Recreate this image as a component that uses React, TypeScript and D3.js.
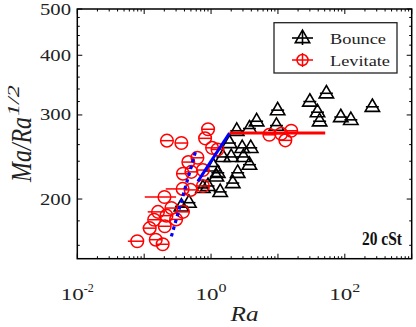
import React from 'react';
import * as d3 from 'd3';

const W = 416;
const H = 327;

// Bounce (black triangles): Ra, Ma/Ra^{1/2}, horizontal error factor
const bounceRa = [53, 30, 9.9, 39, 87, 123, 42, 258, 4.8, 9.5, 3.75, 2.42, 1.89, 2.92, 3.92, 1.5, 2.0, 3.05, 3.75, 1.09, 1.26, 2.5, 1.2, 2.11, 0.9, 1.37, 0.755, 0.467, 0.36];
const bounceVal = [333, 320, 307, 304, 297, 293, 291, 312, 291, 285, 281, 278, 262, 256, 256, 245, 245, 245, 236, 234, 227, 227, 223, 216, 213, 207, 211, 196.5, 193];
const bounceErr = [1.25, 1.25, 1.25, 1.25, 1.25, 1.25, 1.25, 1.25, 1.25, 1.25, 1.25, 1.25, 1.25, 1.25, 1.25, 1.25, 1.25, 1.25, 1.25, 1.25, 1.25, 1.25, 1.25, 1.25, 1.25, 1.25, 1.25, 1.25, 1.25];

// Levitate (red circles): Ra, Ma/Ra^{1/2}, lower / upper Ra of error bar
const levRa = [0.219, 0.36, 0.902, 0.814, 1.035, 1.25, 0.625, 0.457, 0.755, 0.38, 0.507, 0.755, 0.376, 0.495, 0.201, 0.255, 0.161, 0.38, 0.215, 0.141, 0.30, 0.203, 0.121, 0.149, 0.0788, 0.189, 7.44, 12.9, 15.8, 11.2];
const levVal = [265, 262, 280, 268, 256, 254, 244, 239, 230, 226, 228, 213, 210, 209, 202, 191.5, 188, 188, 184.6, 181, 181.3, 175.4, 173.8, 164.4, 163.2, 160.8, 272.6, 265.4, 278, 274];
const levLo = [0.178, 0.293, 0.733, 0.662, 0.841, 1.016, 0.508, 0.372, 0.614, 0.309, 0.412, 0.614, 0.21, 0.402, 0.102, 0.207, 0.113, 0.309, 0.175, 0.115, 0.244, 0.165, 0.095, 0.121, 0.057, 0.154, 6.05, 10.5, 12.8, 9.1];
const levHi = [0.269, 0.443, 1.11, 1.0, 1.27, 1.54, 0.769, 0.562, 0.929, 0.467, 0.624, 0.929, 0.463, 0.609, 0.30, 0.314, 0.198, 0.467, 0.264, 0.173, 0.369, 0.25, 0.149, 0.183, 0.097, 0.232, 9.15, 15.9, 19.4, 13.8];

// Fit lines
const dottedRa = [0.255, 0.598];
const dottedVal = [167, 254];
const solidRa = [0.635, 1.887];
const solidVal = [217.8, 275];
const plateauRa = [1.887, 50.9];
const plateauVal = [275, 275];

const xMajor = [1e-2, 1e-1, 1e0, 1e1, 1e2, 1e3];
const xLabels = [
  { v: 1e-2, exp: '-2' },
  { v: 1e0, exp: '0' },
  { v: 1e2, exp: '2' },
];
const yMajor = [200, 300, 400, 500];
const yMinor = [160, 180, 220, 240, 260, 280, 320, 340, 360, 380, 420, 440, 460, 480];

const SERIF = '"Liberation Serif", "Times New Roman", serif';

export default function App() {
  const left = 77.3, right = 411.7, top = 9, bottom = 258.7;
  const x = d3.scaleLog().domain([1e-2, 1e3]).range([left, right]);
  const y = d3.scaleLog().domain([150, 500]).range([bottom, top]);

  const xMinor: number[] = [];
  for (let e = -2; e < 3; e++) for (let m = 2; m <= 9; m++) xMinor.push(m * Math.pow(10, e));

  const line = d3.line<[number, number]>().x(d => x(d[0])).y(d => y(d[1]));
  const tri = 'M0,-7.8 L7.2,4.6 L-7.2,4.6 Z';

  return (
    <svg width={W} height={H} style={{ position: 'absolute', left: 0, top: 0, background: '#fff' }} fontFamily={SERIF}>
      <rect x={0} y={0} width={W} height={H} fill="#fff" />
      {/* ticks */}
      <g stroke="#000" strokeWidth={1}>
        {xMajor.map((v, i) => (
          <g key={'xM' + i}>
            <line x1={x(v)} x2={x(v)} y1={bottom} y2={bottom - 5} />
            <line x1={x(v)} x2={x(v)} y1={top} y2={top + 5} />
          </g>
        ))}
        {xMinor.map((v, i) => (
          <g key={'xm' + i}>
            <line x1={x(v)} x2={x(v)} y1={bottom} y2={bottom - 2.5} />
            <line x1={x(v)} x2={x(v)} y1={top} y2={top + 2.5} />
          </g>
        ))}
        {yMajor.map((v, i) => (
          <g key={'yM' + i}>
            <line x1={left} x2={left + 5} y1={y(v)} y2={y(v)} />
            <line x1={right} x2={right - 5} y1={y(v)} y2={y(v)} />
          </g>
        ))}
        {yMinor.map((v, i) => (
          <g key={'ym' + i}>
            <line x1={left} x2={left + 2.5} y1={y(v)} y2={y(v)} />
            <line x1={right} x2={right - 2.5} y1={y(v)} y2={y(v)} />
          </g>
        ))}
      </g>

      {/* Bounce triangles */}
      <g stroke="#000" strokeWidth={1.6} fill="none">
        {bounceRa.map((r, i) => (
          <g key={'b' + i}>
            <line x1={x(r / bounceErr[i])} x2={x(r * bounceErr[i])} y1={y(bounceVal[i])} y2={y(bounceVal[i])} />
            <path d={tri} transform={`translate(${x(r)},${y(bounceVal[i])})`} />
          </g>
        ))}
      </g>

      {/* Levitate circles */}
      <g stroke="#ff0000" strokeWidth={1.5} fill="none">
        {levRa.map((r, i) => (
          <g key={'l' + i}>
            <line x1={x(levLo[i])} x2={x(levHi[i])} y1={y(levVal[i])} y2={y(levVal[i])} />
            <circle cx={x(r)} cy={y(levVal[i])} r={6.3} />
          </g>
        ))}
      </g>

      {/* fit lines */}
      <path d={line(dottedRa.map((r, i) => [r, dottedVal[i]]) as any) || ''} stroke="#0000ff" strokeWidth={3.2} strokeDasharray="3.5 3.5" fill="none" />
      <path d={line(solidRa.map((r, i) => [r, solidVal[i]]) as any) || ''} stroke="#0000ff" strokeWidth={3} fill="none" />
      <path d={line(plateauRa.map((r, i) => [r, plateauVal[i]]) as any) || ''} stroke="#ff0000" strokeWidth={3} fill="none" />

      {/* frame */}
      <rect x={left} y={top} width={right - left} height={bottom - top} fill="none" stroke="#000" strokeWidth={1.5} />

      {/* y tick labels */}
      {yMajor.map((v, i) => (
        <text key={'yl' + i} x={71} y={y(v) + 5.5} fontSize={16.5} textAnchor="end" textLength={31} lengthAdjust="spacingAndGlyphs" fill="#222">{v}</text>
      ))}
      {/* x tick labels */}
      {xLabels.map((d, i) => {
        const expW = d.exp.length === 2 ? 10 : 8;
        const baseW = 23;
        const x0 = x(d.v) - (baseW + expW) / 2;
        return (
          <g key={'xl' + i} fill="#222">
            <text x={x0} y={300} fontSize={16.5} textLength={baseW} lengthAdjust="spacingAndGlyphs">10</text>
            <text x={x0 + baseW} y={291.5} fontSize={11.5} textLength={expW} lengthAdjust="spacingAndGlyphs">{d.exp}</text>
          </g>
        );
      })}

      {/* axis titles */}
      <text x={(left + right) / 2} y={321} fontSize={21} fontStyle="italic" textAnchor="middle" textLength={28} lengthAdjust="spacingAndGlyphs" fill="#222">Ra</text>
      <g transform="translate(31,182) scale(1.25,1) rotate(-90)" fill="#222">
        <text x={0} y={0} fontSize={23} fontStyle="italic" textLength={65} lengthAdjust="spacingAndGlyphs">Ma/Ra</text>
        <text x={66} y={-10} fontSize={14} fontStyle="italic" textLength={31} lengthAdjust="spacingAndGlyphs">1/2</text>
      </g>

      {/* legend */}
      <rect x={274} y={22.7} width={123} height={50.3} fill="#fff" stroke="#222" strokeWidth={1.3} />
      <g stroke="#000" strokeWidth={1.6} fill="none">
        <line x1={292} x2={313} y1={38} y2={38} />
        <line x1={302.5} x2={302.5} y1={31} y2={45} />
        <path d={tri} transform="translate(302.5,38)" />
      </g>
      <g stroke="#ff0000" strokeWidth={1.5} fill="none">
        <line x1={292} x2={313} y1={60} y2={60} />
        <line x1={302.5} x2={302.5} y1={53} y2={67} />
        <circle cx={302.5} cy={60} r={5.5} />
      </g>
      <text x={330} y={43.5} fontSize={15.5} textLength={56} lengthAdjust="spacingAndGlyphs" fill="#222">Bounce</text>
      <text x={330} y={65.5} fontSize={15.5} textLength={60} lengthAdjust="spacingAndGlyphs" fill="#222">Levitate</text>

      <text x={402} y={245} fontSize={19} fontWeight="bold" textAnchor="end" textLength={40} lengthAdjust="spacingAndGlyphs" fill="#111">20 cSt</text>
    </svg>
  );
}
